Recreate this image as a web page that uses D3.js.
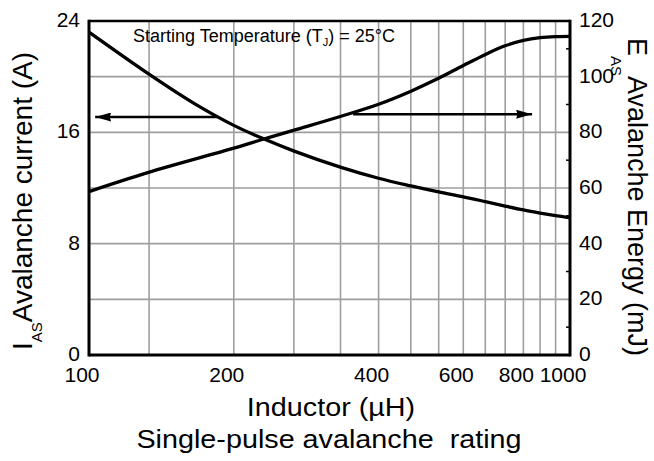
<!DOCTYPE html>
<html>
<head>
<meta charset="utf-8">
<script src="https://cdn.jsdelivr.net/npm/d3@7"></script>
<style>
  html, body { margin: 0; padding: 0; background: #fff; }
  svg { display: block; }
  text { font-family: "Liberation Sans", Arial, Helvetica, sans-serif; fill: #000; }
</style>
</head>
<body>
<svg id="chart" width="654" height="461"></svg>
<script>
// ---- data ----
const inductanceIas = [100, 133, 165, 200, 230, 267, 333, 400, 467, 533, 600, 667, 733, 800, 867, 933, 1000];
const avalancheCurrent = [23.2, 20.2, 18.1, 16.5, 15.55, 14.65, 13.5, 12.7, 12.15, 11.72, 11.37, 11.02, 10.7, 10.42, 10.2, 10.02, 9.86];

const inductanceEas = [100, 133, 200, 230, 267, 333, 400, 467, 533, 600, 667, 733, 800, 867, 933, 1000];
const avalancheEnergy = [58.7, 65.6, 74.3, 77.5, 80.8, 85.7, 90.1, 94.8, 99.4, 104.0, 108.0, 111.1, 113.0, 114.0, 114.4, 114.5];

const xGridValues = [133.33, 200, 266.67, 333.33, 400, 466.67, 533.33, 600, 666.67, 733.33, 800, 866.67, 933.33];
const xTickLabels = [100, 200, 400, 600, 800, 1000];
const leftTicks = [0, 8, 16, 24];
const leftGrid = [4, 8, 12, 16, 20];
const rightTicks = [0, 20, 40, 60, 80, 100, 120];
const rightMinorTicks = [10, 30, 50, 70, 90, 110];

// arrows: [from L, to L, value]
const arrowCurrent = [185, 103, 17.1];
const arrowEnergy = [354, 834, 86.5];

// ---- layout ----
const svg = d3.select("#chart");
const pL = 89, pR = 570, pT = 21, pB = 355;

const x = d3.scaleLog().domain([100, 1000]).range([pL, pR]);
const yL = d3.scaleLinear().domain([0, 24]).range([pB, pT]);
const yR = d3.scaleLinear().domain([0, 120]).range([pB, pT]);

const gridColor = "#9e9e9e";

// grid
svg.append("g").selectAll("line").data(xGridValues).join("line")
  .attr("x1", d => x(d)).attr("x2", d => x(d))
  .attr("y1", pT).attr("y2", pB)
  .attr("stroke", gridColor).attr("stroke-width", 1.6);
svg.append("g").selectAll("line").data(leftGrid).join("line")
  .attr("x1", pL).attr("x2", pR)
  .attr("y1", d => yL(d)).attr("y2", d => yL(d))
  .attr("stroke", gridColor).attr("stroke-width", 1.6);

// minor ticks right axis (inward)
svg.append("g").selectAll("line").data(rightMinorTicks).join("line")
  .attr("x1", pR - 4).attr("x2", pR)
  .attr("y1", d => yR(d)).attr("y2", d => yR(d))
  .attr("stroke", "#000").attr("stroke-width", 1.5);

// frame
svg.append("line").attr("x1", pL).attr("x2", pR).attr("y1", pT).attr("y2", pT)
  .attr("stroke", "#000").attr("stroke-width", 2.6);
svg.append("line").attr("x1", pL).attr("x2", pR).attr("y1", pB).attr("y2", pB)
  .attr("stroke", "#000").attr("stroke-width", 3);
svg.append("line").attr("x1", pL).attr("x2", pL).attr("y1", pT - 1.3).attr("y2", pB + 1.5)
  .attr("stroke", "#000").attr("stroke-width", 3);
svg.append("line").attr("x1", pR).attr("x2", pR).attr("y1", pT - 1.3).attr("y2", pB + 1.5)
  .attr("stroke", "#000").attr("stroke-width", 3);

// curves
const lineI = d3.line().x((d, i) => x(inductanceIas[i])).y(d => yL(d)).curve(d3.curveCatmullRom.alpha(0.5));
const lineE = d3.line().x((d, i) => x(inductanceEas[i])).y(d => yR(d)).curve(d3.curveCatmullRom.alpha(0.5));
svg.append("path").attr("d", lineI(avalancheCurrent))
  .attr("fill", "none").attr("stroke", "#000").attr("stroke-width", 3.3);
svg.append("path").attr("d", lineE(avalancheEnergy))
  .attr("fill", "none").attr("stroke", "#000").attr("stroke-width", 3.3);

// arrow marker
svg.append("defs").append("marker")
  .attr("id", "ah").attr("viewBox", "0 0 16 9").attr("refX", 16).attr("refY", 4.5)
  .attr("markerWidth", 16).attr("markerHeight", 9).attr("markerUnits", "userSpaceOnUse")
  .attr("orient", "auto")
  .append("path").attr("d", "M0,0 L16,4.5 L0,9 L1.5,4.5 Z").attr("fill", "#000");

svg.append("line")
  .attr("x1", x(arrowCurrent[0])).attr("x2", x(arrowCurrent[1]))
  .attr("y1", yL(arrowCurrent[2])).attr("y2", yL(arrowCurrent[2]))
  .attr("stroke", "#000").attr("stroke-width", 2.4).attr("marker-end", "url(#ah)");
svg.append("line")
  .attr("x1", x(arrowEnergy[0])).attr("x2", x(arrowEnergy[1]))
  .attr("y1", yR(arrowEnergy[2])).attr("y2", yR(arrowEnergy[2]))
  .attr("stroke", "#000").attr("stroke-width", 2.4).attr("marker-end", "url(#ah)");

// tick labels
const tickFont = 21;
svg.append("g").selectAll("text").data(xTickLabels).join("text")
  .attr("x", d => x(d) - 7).attr("y", 382)
  .attr("text-anchor", "middle").attr("font-size", tickFont)
  .text(d => d);
svg.append("g").selectAll("text").data(leftTicks).join("text")
  .attr("x", 80).attr("y", d => yL(d) + 6)
  .attr("text-anchor", "end").attr("font-size", tickFont)
  .text(d => d);
svg.append("g").selectAll("text").data(rightTicks).join("text")
  .attr("x", 579).attr("y", d => yR(d) + 6)
  .attr("text-anchor", "start").attr("font-size", tickFont)
  .text(d => d);

// annotation
const ann = svg.append("text").attr("x", 133).attr("y", 42).attr("font-size", 18);
ann.append("tspan").text("Starting Temperature (T");
ann.append("tspan").attr("font-size", 11).attr("dy", 4).text("J");
ann.append("tspan").attr("dy", -4).text(") = 25°C");

// x axis titles
svg.append("text").attr("transform", "translate(331,416) scale(1.15,1)")
  .attr("text-anchor", "middle").attr("font-size", 25).text("Inductor (µH)");
svg.append("text").attr("transform", "translate(329,448) scale(1.15,1)")
  .attr("text-anchor", "middle").attr("font-size", 25).text("Single-pulse avalanche\u00A0 rating");

// left title
const lt = svg.append("text").attr("transform", "translate(32,201) rotate(-90)")
  .attr("text-anchor", "middle").attr("font-size", 28);
lt.append("tspan").text("I");
lt.append("tspan").attr("font-size", 15).attr("dy", 10).text("AS");
lt.append("tspan").attr("dy", -10).text("Avalanche current (A)");

// right title
const rt = svg.append("text").attr("transform", "translate(628,197) rotate(90)")
  .attr("text-anchor", "middle").attr("font-size", 27);
rt.append("tspan").text("E");
rt.append("tspan").attr("font-size", 15).attr("dy", 17).text("AS");
rt.append("tspan").attr("dy", -17).text("Avalanche Energy (mJ)");
</script>
</body>
</html>
